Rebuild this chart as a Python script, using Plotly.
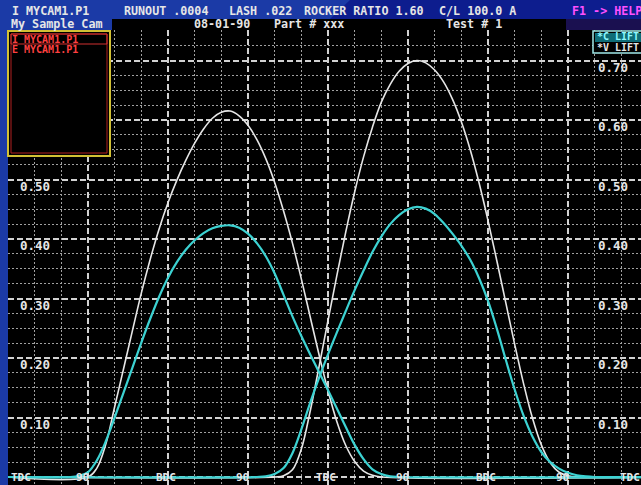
import plotly.graph_objects as go

# ---------------- data ----------------
tick_deg = [0, 90, 180, 270, 360, 450, 540, 630, 720]
tick_text = ["TDC", "90", "BDC", "90", "TDC", "90", "BDC", "90", "TDC"]
lift_ticks = [0.10, 0.20, 0.30, 0.40, 0.50, 0.60, 0.70]

# exhaust lobe (first hump), crank degrees
exh_valve_deg = [0, 90, 100, 110, 120, 130, 140, 150, 160, 170, 180, 190, 200, 210, 220, 230, 240, 250,
                 260, 270, 280, 290, 300, 310, 320, 330, 340, 350, 360, 370, 380, 390, 400, 410, 420, 720]
exh_valve_lift = [0, 0, 0.015, 0.055, 0.118, 0.182, 0.246, 0.309, 0.366, 0.417, 0.461, 0.499, 0.532,
                  0.561, 0.585, 0.603, 0.613, 0.615, 0.607, 0.591, 0.567, 0.535, 0.495, 0.447, 0.393,
                  0.333, 0.269, 0.205, 0.145, 0.093, 0.053, 0.026, 0.010, 0.003, 0, 0]
exh_cam_deg = [0, 70, 80, 90, 100, 110, 120, 130, 140, 150, 160, 170, 180, 190, 200, 210, 220, 230, 240,
               250, 260, 270, 280, 290, 300, 310, 320, 330, 340, 350, 360, 370, 380, 390, 400, 410,
               420, 430, 440, 720]
exh_cam_lift = [0, 0, 0.002, 0.008, 0.028, 0.060, 0.100, 0.142, 0.184, 0.226, 0.266, 0.303, 0.335,
                0.361, 0.382, 0.398, 0.410, 0.418, 0.422, 0.423, 0.419, 0.409, 0.393, 0.371, 0.342,
                0.306, 0.270, 0.237, 0.206, 0.176, 0.146, 0.115, 0.084, 0.054, 0.030, 0.013, 0.005,
                0.001, 0, 0]

# intake lobe (second hump)
int_valve_deg = [0, 300, 310, 320, 330, 340, 350, 360, 370, 380, 390, 400, 410, 420, 430, 440, 450,
                 460, 470, 480, 490, 500, 510, 520, 530, 540, 550, 560, 570, 580, 590, 600, 610, 620,
                 630, 640, 720]
int_valve_lift = [0, 0, 0.002, 0.012, 0.047, 0.111, 0.186, 0.263, 0.339, 0.412, 0.479, 0.538, 0.588,
                  0.630, 0.660, 0.682, 0.695, 0.700, 0.696, 0.684, 0.664, 0.635, 0.597, 0.550, 0.494,
                  0.431, 0.363, 0.293, 0.223, 0.157, 0.099, 0.054, 0.024, 0.008, 0.002, 0, 0]
int_cam_deg = [0, 280, 290, 300, 310, 320, 330, 340, 350, 360, 370, 380, 390, 400, 410, 420, 430, 440,
               450, 460, 470, 480, 490, 500, 510, 520, 530, 540, 550, 560, 570, 580, 590, 600, 610,
               620, 630, 640, 650, 660, 720]
int_cam_lift = [0, 0, 0.001, 0.005, 0.015, 0.040, 0.080, 0.125, 0.167, 0.206, 0.243, 0.279, 0.314,
                0.347, 0.378, 0.404, 0.425, 0.440, 0.450, 0.454, 0.451, 0.442, 0.427, 0.409, 0.389,
                0.365, 0.334, 0.296, 0.249, 0.197, 0.147, 0.103, 0.068, 0.042, 0.025, 0.014, 0.007,
                0.003, 0.001, 0, 0]

header_row1 = [("I MYCAM1.P1", 11), ("RUNOUT .0004", 123), ("LASH .022", 228),
               ("ROCKER RATIO 1.60", 303), ("C/L 100.0 A", 438)]
header_row2 = [("My Sample Cam", 10), ("08-01-90", 193), ("Part # xxx", 273), ("Test # 1", 445)]

# ---------------- layout geometry ----------------
W, H = 641, 485
ML, MT, MR, MB = 8, 30, 0, 0
PW, PH = W - ML - MR, H - MT - MB
DEG_PER_PX = 90 / 80
PX_PER_UNIT = 595
Y_ZERO_PX = 477
X1 = PW * DEG_PER_PX
Y0 = (Y_ZERO_PX - H) / PX_PER_UNIT
Y1 = (Y_ZERO_PX - MT) / PX_PER_UNIT

def px(x):
    return (x - ML) / PW

def py(y):
    return (H - MB - y) / PH

FONT = "DejaVu Sans Mono"
WHITE = "#e6e6e6"
CYAN = "#3cd2d2"

fig = go.Figure()
for xs, ys, col, w in [(exh_valve_deg, exh_valve_lift, WHITE, 1.6),
                       (int_valve_deg, int_valve_lift, WHITE, 1.6),
                       (exh_cam_deg, exh_cam_lift, CYAN, 2.2),
                       (int_cam_deg, int_cam_lift, CYAN, 2.2)]:
    fig.add_trace(go.Scatter(x=xs, y=ys, mode="lines", hoverinfo="skip",
                             line=dict(color=col, width=w, shape="spline", smoothing=1.0)))

shapes = []
# darker blue top-right area
shapes.append(dict(type="path", xref="paper", yref="paper", layer="below",
                   path=f"M {px(350)} {py(0)} L {px(641)} {py(0)} L {px(641)} {py(19)} L {px(330)} {py(19)} Z",
                   fillcolor="#0d1d8e", line=dict(width=0)))
# black strip of header row 2
shapes.append(dict(type="rect", xref="paper", yref="paper", layer="below",
                   x0=px(112), x1=px(566), y0=py(30), y1=py(19),
                   fillcolor="black", line=dict(width=0)))
shapes.append(dict(type="rect", xref="paper", yref="paper", layer="below",
                   x0=px(566), x1=px(641), y0=py(30), y1=py(19),
                   fillcolor="#1a1050", line=dict(width=0)))
# left file box
shapes.append(dict(type="rect", xref="paper", yref="paper", layer="above",
                   x0=px(8), x1=px(110), y0=py(156), y1=py(31),
                   fillcolor="black", line=dict(color="#d2c034", width=2)))
shapes.append(dict(type="rect", xref="paper", yref="paper", layer="above",
                   x0=px(11), x1=px(107), y0=py(153), y1=py(34),
                   fillcolor="rgba(0,0,0,0)", line=dict(color="#b02020", width=1)))
shapes.append(dict(type="rect", xref="paper", yref="paper", layer="above",
                   x0=px(11), x1=px(107), y0=py(44), y1=py(34),
                   fillcolor="rgba(0,0,0,0)", line=dict(color="#d03030", width=1)))
# right legend box
shapes.append(dict(type="rect", xref="paper", yref="paper", layer="above",
                   x0=px(593), x1=px(645), y0=py(53), y1=py(31),
                   fillcolor="black", line=dict(color="#a0e8e8", width=1.5)))
shapes.append(dict(type="rect", xref="paper", yref="paper", layer="above",
                   x0=px(595), x1=px(645), y0=py(42), y1=py(33),
                   fillcolor="#0f6d78", line=dict(width=0)))

ann = []
def txt(s, x, y, color=WHITE, size=11.7, anchor="left"):
    ann.append(dict(text=s, xref="paper", yref="paper", x=px(x), y=py(y), xanchor=anchor,
                    yanchor="middle", showarrow=False, borderpad=0,
                    font=dict(family=FONT, size=size, color=color, weight="bold")))

for s, x in header_row1:
    txt(s, x, 11)
for s, x in header_row2:
    txt(s, x, 24)
txt("F1 -> HELP", 571, 11, color="#ff50ff")
txt("I MYCAM1.P1", 11, 39, color="#ff4040", size=10)
txt("E MYCAM1.P1", 11, 50, color="#ff4040", size=10)
txt("*C LIFT", 596, 37, color="#8ff8ff", size=10)
txt("*V LIFT", 596, 48, color=WHITE, size=10)

# lift labels, left and right (left ones above 0.5 are hidden by the file box)
for v in lift_ticks:
    label = f"{v:.2f}"
    if v <= 0.5:
        ann.append(dict(text=label, x=px(18), xref="paper", y=v, yref="y", xanchor="left",
                        yanchor="top", yshift=3, showarrow=False,
                        font=dict(family=FONT, size=12.5, color=WHITE, weight="bold")))
    ann.append(dict(text=label, x=px(596), xref="paper", y=v, yref="y", xanchor="left",
                    yanchor="top", yshift=3, showarrow=False,
                    font=dict(family=FONT, size=12.5, color=WHITE, weight="bold")))

# crank angle labels along the bottom
for d, s in zip(tick_deg, tick_text):
    if d <= 0:
        xa, xv, shift = "left", d, 2
    elif d >= X1:
        xa, xv, shift = "right", X1, 0
    else:
        xa, xv, shift = "center", d, (-6 if s == "90" else -2)
    ann.append(dict(text=s, x=xv, xref="x", y=Y0, yref="y", xanchor=xa, yanchor="bottom",
                    xshift=shift, yshift=0, showarrow=False, borderpad=0,
                    font=dict(family=FONT, size=11, color=WHITE, weight="bold")))

fig.update_layout(
    width=W, height=H, margin=dict(l=ML, r=MR, t=MT, b=MB, pad=0),
    paper_bgcolor="#1b3aa6", plot_bgcolor="black", showlegend=False,
    shapes=shapes, annotations=ann,
    xaxis=dict(range=[0, X1], tick0=0, dtick=90, showgrid=True, gridcolor="#d2d2d2",
               gridwidth=2, griddash="6px,3px", showticklabels=False, ticks="", zeroline=False,
               showline=False,
               minor=dict(dtick=30, tick0=0, showgrid=True, gridcolor="#a0a0a0", gridwidth=1,
                          griddash="2px,2px")),
    yaxis=dict(range=[Y0, Y1], tick0=0, dtick=0.1, showgrid=True, gridcolor="#d2d2d2",
               gridwidth=2, griddash="6px,3px", showticklabels=False, ticks="", zeroline=False,
               showline=False,
               minor=dict(dtick=0.025, tick0=0, showgrid=True, gridcolor="#a0a0a0", gridwidth=1,
                          griddash="2px,2px")),
)

fig.write_html("out.html", config={"displayModeBar": False},
               post_script="document.body.style.margin='0';document.body.style.overflow='hidden';")
